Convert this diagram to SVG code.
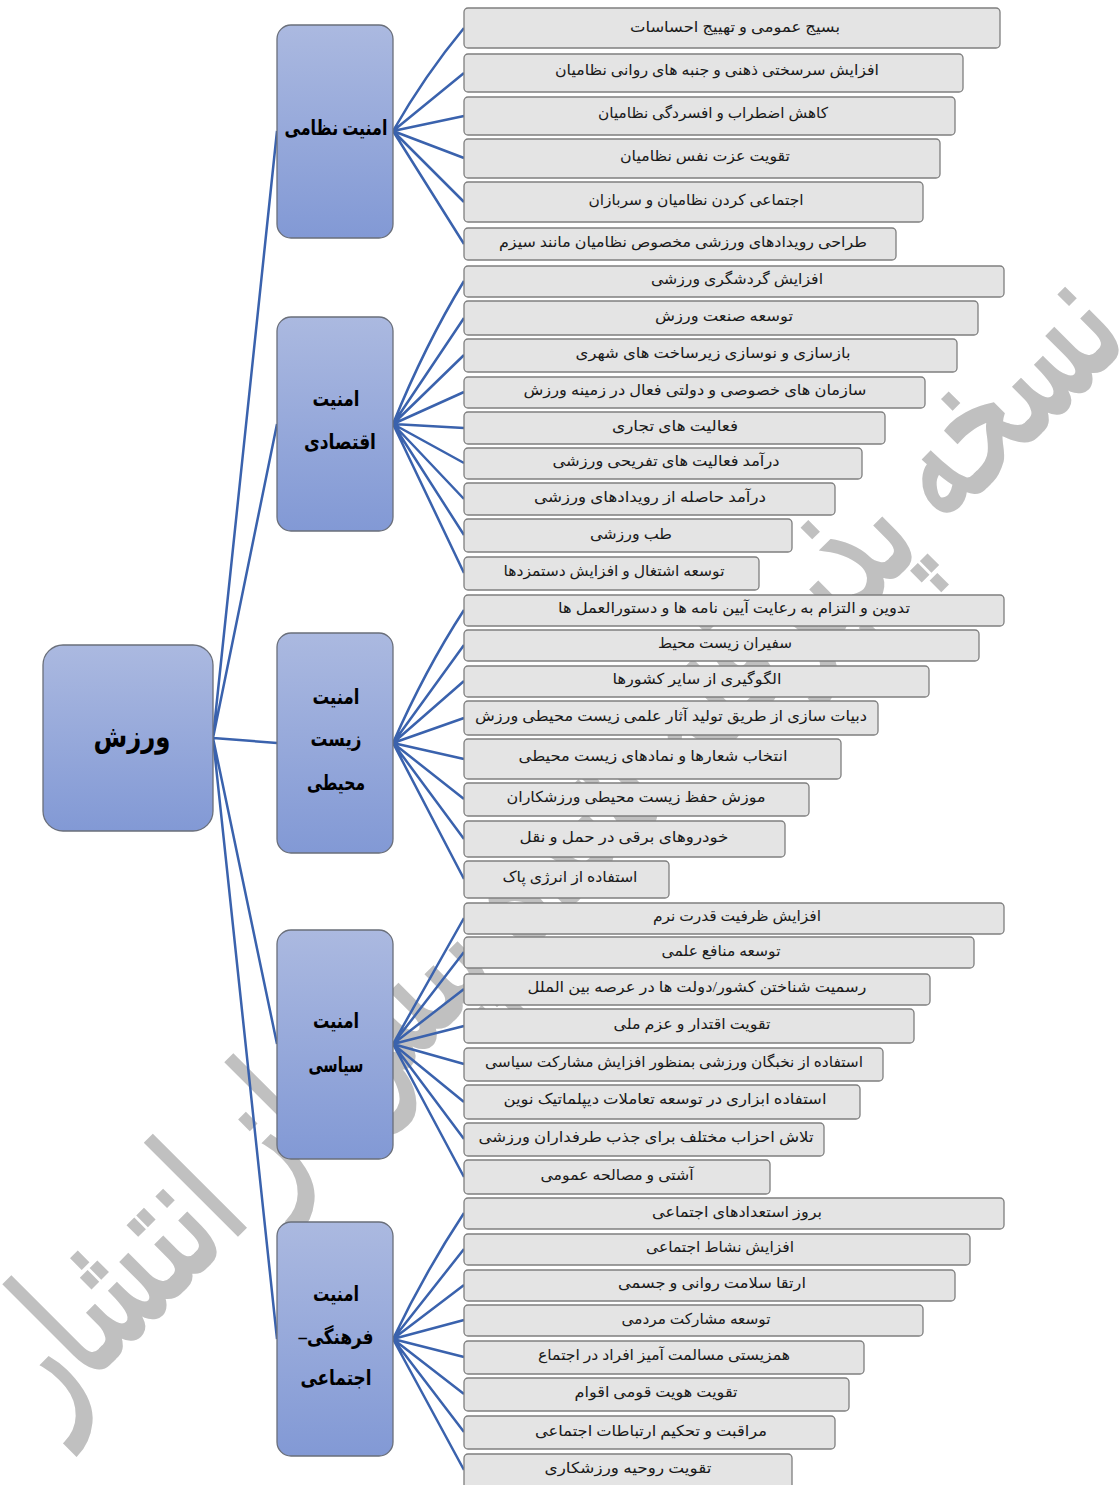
<svg xmlns="http://www.w3.org/2000/svg" width="1120" height="1485" viewBox="0 0 1120 1485">
<style>
text{direction:rtl;text-anchor:middle;font-family:"Liberation Serif","DejaVu Sans",sans-serif}
.w{fill:#c0c0c0;stroke:#c0c0c0;stroke-width:4;font-size:170px}
.c{stroke:#3a62ad;stroke-width:2.5;fill:none}
.p{fill:url(#g);stroke:#6a6f7a;stroke-width:1.3}
.b{fill:#e4e4e4;stroke:#7f7f7f;stroke-width:1.3}
.h{font-weight:bold;fill:#000}
.t{font-size:15px;fill:#1a1a1a}
</style>
<defs><linearGradient id="g" x1="0" y1="0" x2="0" y2="1"><stop offset="0" stop-color="#abb9e0"/><stop offset="1" stop-color="#8299d5"/></linearGradient></defs>
<text id="watermark" class="w" transform="translate(591,881) rotate(-45)" textLength="1530" lengthAdjust="spacingAndGlyphs">نسخه پذیرفته شده پیش از انتشار</text>
<g id="connectors" class="c">
<path d="M213 738L277 131M213 738L277 424M213 738L277 743M213 738L277 1044M213 738L277 1339"/>
<path d="M393 131Q425 75 464 28M393 131L464 73M393 131L464 116M393 131L464 158M393 131L464 202M393 131L464 244"/>
<path d="M393 424Q425 345 464 281M393 424L464 318M393 424L464 355M393 424L464 392M393 424L464 428M393 424L464 463M393 424L464 499M393 424L464 535M393 424L464 573"/>
<path d="M393 743Q425 670 464 610M393 743L464 645M393 743L464 681M393 743L464 718M393 743L464 759M393 743L464 799M393 743L464 839M393 743L464 879"/>
<path d="M393 1044L464 918M393 1044L464 952M393 1044L464 989M393 1044L464 1026M393 1044L464 1064M393 1044L464 1102M393 1044L464 1139M393 1044L464 1177"/>
<path d="M393 1339Q425 1272 464 1213M393 1339L464 1249M393 1339L464 1285M393 1339L464 1320M393 1339L464 1357M393 1339L464 1394M393 1339L464 1432M393 1339L464 1470"/>
</g>
<g id="root"><rect class="p" x="43" y="645" width="170" height="186" rx="20"/><text class="h" x="132" y="747" font-size="30" textLength="77" lengthAdjust="spacingAndGlyphs">ورزش</text></g>
<g id="p1"><rect class="p" x="277" y="25" width="116" height="213" rx="14"/><text class="h" x="336" y="135" font-size="21" textLength="103" lengthAdjust="spacingAndGlyphs">امنیت نظامی</text></g>
<g id="p2"><rect class="p" x="277" y="317" width="116" height="214" rx="14"/><text class="h" x="336" y="406" font-size="21" textLength="47" lengthAdjust="spacingAndGlyphs">امنیت</text><text class="h" x="340" y="449" font-size="21" textLength="72" lengthAdjust="spacingAndGlyphs">اقتصادی</text></g>
<g id="p3"><rect class="p" x="277" y="633" width="116" height="220" rx="14"/><text class="h" x="336" y="704" font-size="21" textLength="47" lengthAdjust="spacingAndGlyphs">امنیت</text><text class="h" x="336" y="746" font-size="21" textLength="51" lengthAdjust="spacingAndGlyphs">زیست</text><text class="h" x="336" y="790" font-size="21" textLength="58" lengthAdjust="spacingAndGlyphs">محیطی</text></g>
<g id="p4"><rect class="p" x="277" y="930" width="116" height="229" rx="14"/><text class="h" x="336" y="1028" font-size="21" textLength="46" lengthAdjust="spacingAndGlyphs">امنیت</text><text class="h" x="336" y="1072" font-size="21" textLength="55" lengthAdjust="spacingAndGlyphs">سیاسی</text></g>
<g id="p5"><rect class="p" x="277" y="1222" width="116" height="234" rx="14"/><text class="h" x="336" y="1301" font-size="21" textLength="46" lengthAdjust="spacingAndGlyphs">امنیت</text><text class="h" x="336" y="1344" font-size="21" textLength="75" lengthAdjust="spacingAndGlyphs">فرهنگی–</text><text class="h" x="336" y="1385" font-size="21" textLength="71" lengthAdjust="spacingAndGlyphs">اجتماعی</text></g>
<g id="n1"><rect class="b" x="464" y="8" width="536" height="40" rx="4"/><text class="t" x="735" y="32" textLength="210" lengthAdjust="spacingAndGlyphs">بسیج عمومی و تهییج احساسات</text></g>
<g id="n2"><rect class="b" x="464" y="54" width="499" height="38" rx="4"/><text class="t" x="717" y="75" textLength="324" lengthAdjust="spacingAndGlyphs">افزایش سرسختی ذهنی و جنبه های روانی نظامیان</text></g>
<g id="n3"><rect class="b" x="464" y="97" width="491" height="38" rx="4"/><text class="t" x="713" y="118" textLength="230" lengthAdjust="spacingAndGlyphs">کاهش اضطراب و افسردگی نظامیان</text></g>
<g id="n4"><rect class="b" x="464" y="139" width="476" height="39" rx="4"/><text class="t" x="705" y="161" textLength="170" lengthAdjust="spacingAndGlyphs">تقویت عزت نفس نظامیان</text></g>
<g id="n5"><rect class="b" x="464" y="182" width="459" height="40" rx="4"/><text class="t" x="696" y="205" textLength="215" lengthAdjust="spacingAndGlyphs">اجتماعی کردن نظامیان و سربازان</text></g>
<g id="n6"><rect class="b" x="464" y="228" width="432" height="32" rx="4"/><text class="t" x="683" y="247" textLength="368" lengthAdjust="spacingAndGlyphs">طراحی رویدادهای ورزشی مخصوص نظامیان مانند سیزم</text></g>
<g id="n7"><rect class="b" x="464" y="266" width="540" height="31" rx="4"/><text class="t" x="737" y="284" textLength="172" lengthAdjust="spacingAndGlyphs">افزایش گردشگری ورزشی</text></g>
<g id="n8"><rect class="b" x="464" y="301" width="514" height="34" rx="4"/><text class="t" x="724" y="321" textLength="138" lengthAdjust="spacingAndGlyphs">توسعه صنعت ورزش</text></g>
<g id="n9"><rect class="b" x="464" y="339" width="493" height="33" rx="4"/><text class="t" x="713" y="358" textLength="275" lengthAdjust="spacingAndGlyphs">بازسازی و نوسازی زیرساخت های شهری</text></g>
<g id="n10"><rect class="b" x="464" y="377" width="461" height="31" rx="4"/><text class="t" x="695" y="395" textLength="343" lengthAdjust="spacingAndGlyphs">سازمان های خصوصی و دولتی فعال در زمینه ورزش</text></g>
<g id="n11"><rect class="b" x="464" y="412" width="421" height="32" rx="4"/><text class="t" x="675" y="431" textLength="126" lengthAdjust="spacingAndGlyphs">فعالیت های تجاری</text></g>
<g id="n12"><rect class="b" x="464" y="448" width="398" height="31" rx="4"/><text class="t" x="666" y="466" textLength="227" lengthAdjust="spacingAndGlyphs">درآمد فعالیت های تفریحی ورزشی</text></g>
<g id="n13"><rect class="b" x="464" y="483" width="371" height="32" rx="4"/><text class="t" x="650" y="502" textLength="232" lengthAdjust="spacingAndGlyphs">درآمد حاصله از رویدادهای ورزشی</text></g>
<g id="n14"><rect class="b" x="464" y="519" width="328" height="33" rx="4"/><text class="t" x="631" y="539" textLength="82" lengthAdjust="spacingAndGlyphs">طب ورزشی</text></g>
<g id="n15"><rect class="b" x="464" y="557" width="295" height="33" rx="4"/><text class="t" x="614" y="576" textLength="221" lengthAdjust="spacingAndGlyphs">توسعه اشتغال و افزایش دستمزدها</text></g>
<g id="n16"><rect class="b" x="464" y="595" width="540" height="31" rx="4"/><text class="t" x="734" y="613" textLength="352" lengthAdjust="spacingAndGlyphs">تدوین و التزام به رعایت آیین نامه ها و دستورالعمل ها</text></g>
<g id="n17"><rect class="b" x="464" y="630" width="515" height="31" rx="4"/><text class="t" x="725" y="648" textLength="134" lengthAdjust="spacingAndGlyphs">سفیران زیست محیط</text></g>
<g id="n18"><rect class="b" x="464" y="666" width="465" height="31" rx="4"/><text class="t" x="697" y="684" textLength="169" lengthAdjust="spacingAndGlyphs">الگوگیری از سایر کشورها</text></g>
<g id="n19"><rect class="b" x="464" y="701" width="414" height="34" rx="4"/><text class="t" x="671" y="721" textLength="392" lengthAdjust="spacingAndGlyphs">دبیات سازی از طریق تولید آثار علمی زیست محیطی ورزش</text></g>
<g id="n20"><rect class="b" x="464" y="739" width="377" height="40" rx="4"/><text class="t" x="653" y="761" textLength="269" lengthAdjust="spacingAndGlyphs">انتخاب شعارها و نمادهای زیست محیطی</text></g>
<g id="n21"><rect class="b" x="464" y="783" width="345" height="33" rx="4"/><text class="t" x="636" y="802" textLength="259" lengthAdjust="spacingAndGlyphs">موزش حفظ زیست محیطی ورزشکاران</text></g>
<g id="n22"><rect class="b" x="464" y="821" width="321" height="36" rx="4"/><text class="t" x="624" y="842" textLength="209" lengthAdjust="spacingAndGlyphs">خودروهای برقی در حمل و نقل</text></g>
<g id="n23"><rect class="b" x="464" y="861" width="205" height="37" rx="4"/><text class="t" x="570" y="882" textLength="135" lengthAdjust="spacingAndGlyphs">استفاده از انرژی پاک</text></g>
<g id="n24"><rect class="b" x="464" y="903" width="540" height="31" rx="4"/><text class="t" x="737" y="921" textLength="168" lengthAdjust="spacingAndGlyphs">افزایش ظرفیت قدرت نرم</text></g>
<g id="n25"><rect class="b" x="464" y="937" width="510" height="31" rx="4"/><text class="t" x="721" y="956" textLength="119" lengthAdjust="spacingAndGlyphs">توسعه منافع علمی</text></g>
<g id="n26"><rect class="b" x="464" y="974" width="466" height="31" rx="4"/><text class="t" x="697" y="992" textLength="339" lengthAdjust="spacingAndGlyphs">رسمیت شناختن کشور/دولت ها در عرصه بین الملل</text></g>
<g id="n27"><rect class="b" x="464" y="1009" width="450" height="34" rx="4"/><text class="t" x="692" y="1029" textLength="157" lengthAdjust="spacingAndGlyphs">تقویت اقتدار و عزم ملی</text></g>
<g id="n28"><rect class="b" x="464" y="1048" width="419" height="33" rx="4"/><text class="t" x="674" y="1067" textLength="378" lengthAdjust="spacingAndGlyphs">استفاده از نخبگان ورزشی بمنظور افزایش مشارکت سیاسی</text></g>
<g id="n29"><rect class="b" x="464" y="1085" width="396" height="34" rx="4"/><text class="t" x="665" y="1104" textLength="323" lengthAdjust="spacingAndGlyphs">استفاده ابزاری در توسعه تعاملات دیپلماتیک نوین</text></g>
<g id="n30"><rect class="b" x="464" y="1123" width="360" height="33" rx="4"/><text class="t" x="646" y="1142" textLength="335" lengthAdjust="spacingAndGlyphs">تلاش احزاب مختلف برای جذب طرفداران ورزشی</text></g>
<g id="n31"><rect class="b" x="464" y="1160" width="306" height="34" rx="4"/><text class="t" x="617" y="1180" textLength="153" lengthAdjust="spacingAndGlyphs">آشتی و مصالحه عمومی</text></g>
<g id="n32"><rect class="b" x="464" y="1198" width="540" height="31" rx="4"/><text class="t" x="737" y="1217" textLength="170" lengthAdjust="spacingAndGlyphs">بروز استعدادهای اجتماعی</text></g>
<g id="n33"><rect class="b" x="464" y="1234" width="506" height="31" rx="4"/><text class="t" x="720" y="1252" textLength="148" lengthAdjust="spacingAndGlyphs">افزایش نشاط اجتماعی</text></g>
<g id="n34"><rect class="b" x="464" y="1270" width="491" height="31" rx="4"/><text class="t" x="712" y="1288" textLength="188" lengthAdjust="spacingAndGlyphs">ارتقا سلامت روانی و جسمی</text></g>
<g id="n35"><rect class="b" x="464" y="1305" width="459" height="31" rx="4"/><text class="t" x="696" y="1324" textLength="149" lengthAdjust="spacingAndGlyphs">توسعه مشارکت مردمی</text></g>
<g id="n36"><rect class="b" x="464" y="1341" width="400" height="33" rx="4"/><text class="t" x="664" y="1360" textLength="252" lengthAdjust="spacingAndGlyphs">همزیستی مسالمت آمیز افراد در اجتماع</text></g>
<g id="n37"><rect class="b" x="464" y="1378" width="385" height="33" rx="4"/><text class="t" x="656" y="1397" textLength="163" lengthAdjust="spacingAndGlyphs">تقویت هویت قومی اقوام</text></g>
<g id="n38"><rect class="b" x="464" y="1416" width="371" height="33" rx="4"/><text class="t" x="651" y="1436" textLength="232" lengthAdjust="spacingAndGlyphs">مراقبت و تحکیم ارتباطات اجتماعی</text></g>
<g id="n39"><rect class="b" x="464" y="1454" width="328" height="40" rx="4"/><text class="t" x="628" y="1473" textLength="167" lengthAdjust="spacingAndGlyphs">تقویت روحیه ورزشکاری</text></g>
</svg>
